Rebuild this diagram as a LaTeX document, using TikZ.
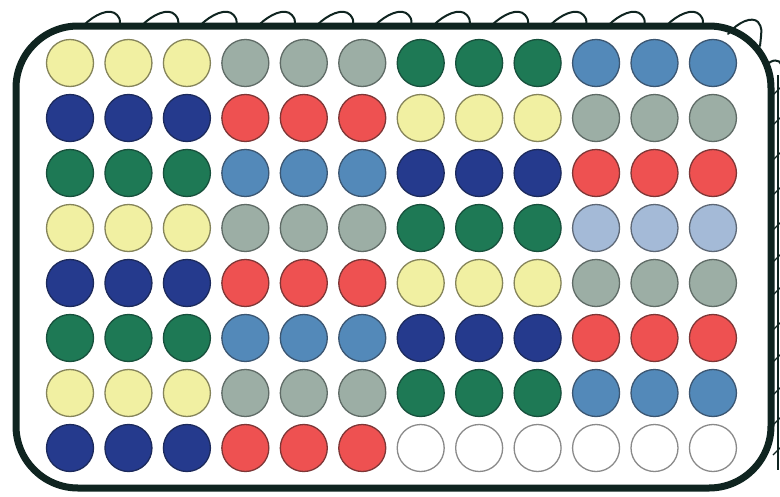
\documentclass[tikz,border=0pt]{standalone}
\definecolor{cY}{HTML}{F1F0A2}\definecolor{oY}{HTML}{85845A}
\definecolor{cG}{HTML}{9CAEA5}\definecolor{oG}{HTML}{5F6B66}
\definecolor{cD}{HTML}{1E7955}\definecolor{oD}{HTML}{17503C}
\definecolor{cB}{HTML}{5389B9}\definecolor{oB}{HTML}{3B5672}
\definecolor{cN}{HTML}{253A8D}\definecolor{oN}{HTML}{1C2A5C}
\definecolor{cR}{HTML}{EE5151}\definecolor{oR}{HTML}{7E3636}
\definecolor{cL}{HTML}{A4BAD7}\definecolor{oL}{HTML}{5E6876}
\definecolor{cW}{HTML}{FFFFFF}\definecolor{oW}{HTML}{8A8A8A}
\definecolor{rim}{HTML}{0F2420}
\tikzset{
  well/.style={circle, minimum size=47pt, inner sep=0pt, line width=1.3pt},
  plate/.style={draw=rim, line width=7pt, rounded corners=62pt},
  loop/.style={draw=rim, line width=2pt, line cap=round},
}
\begin{document}
\begin{tikzpicture}[x=1pt,y=-1pt]
\useasboundingbox (0,0) rectangle (780,496);
\fill[white] (0,0) rectangle (780,496);
% top loops
\foreach \k in {0,...,10}{
  \pgfmathsetmacro{\xo}{84+58.3*\k}
  \draw[loop] (\xo,25) .. controls (\xo+10,15) and (\xo+26,7) .. (\xo+33,15) .. controls (\xo+36,19) .. (\xo+36,25);
}
% corner loop
\draw[loop] (728,34) .. controls (738,22) and (752,16) .. (758,22) .. controls (762,28) .. (760,46);
\draw[loop] (766,66) .. controls (772,58) and (780,60) .. (781,64);
% right edge ticks
\foreach \y in {95,125,160,195,230,262,295,330,362,395,425,455}{
  \draw[rim, line width=1.3pt] (773,\y) .. controls (777,\y-4) .. (781,\y-8);
}
\draw[rim, line width=1.5pt] (778,75) -- (778,470);
% plate
\draw[plate] (16,26) rectangle (771,488);
% wells
\foreach \row [count=\r] in {
  {Y,Y,Y,G,G,G,D,D,D,B,B,B},
  {N,N,N,R,R,R,Y,Y,Y,G,G,G},
  {D,D,D,B,B,B,N,N,N,R,R,R},
  {Y,Y,Y,G,G,G,D,D,D,L,L,L},
  {N,N,N,R,R,R,Y,Y,Y,G,G,G},
  {D,D,D,B,B,B,N,N,N,R,R,R},
  {Y,Y,Y,G,G,G,D,D,D,B,B,B},
  {N,N,N,R,R,R,W,W,W,W,W,W}}{
  \foreach \c [count=\k] in \row {
    \node[well, fill=c\c, draw=o\c] (w-\r-\k) at ({70+58.45*(\k-1)},{63+55*(\r-1)}) {};
  }
}
\end{tikzpicture}
\end{document}
